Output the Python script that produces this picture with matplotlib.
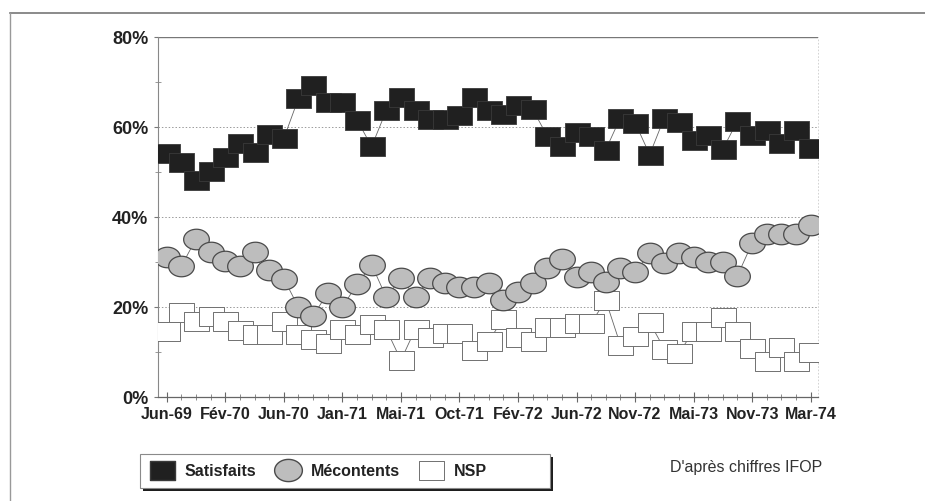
import numpy as np
import matplotlib.pyplot as plt
from matplotlib.path import Path
from matplotlib.lines import Line2D
from matplotlib.patches import Rectangle

plt.rcParams['font.family'] = ['Liberation Sans', 'DejaVu Sans']

# ----------------------------
# Sondages IFOP (en %)
# ----------------------------
satisfaits = [54.1, 52.2, 48.2, 50.2, 53.3, 56.3, 54.4, 58.4, 57.4, 66.3,
              69.2, 65.4, 65.4, 61.5, 55.6, 63.6, 66.5, 63.7, 61.7, 61.7,
              62.7, 66.7, 63.8, 62.8, 64.8, 63.9, 57.9, 55.8, 58.9, 58.0,
              54.9, 62.0, 60.9, 53.8, 62.0, 61.1, 57.0, 58.1, 55.0, 61.3,
              58.1, 59.3, 56.3, 59.3, 55.3]
mecontents = [31.1, 29.0, 35.1, 32.2, 30.2, 29.1, 32.2, 28.2, 26.2, 19.9,
              18.0, 23.0, 19.9, 25.0, 29.3, 22.1, 26.3, 22.2, 26.4, 25.3,
              24.3, 24.3, 25.3, 21.5, 23.3, 25.3, 28.5, 30.7, 26.5, 27.6,
              25.5, 28.7, 27.6, 31.9, 29.7, 31.9, 31.0, 30.0, 30.0, 26.9,
              34.1, 36.1, 36.1, 36.1, 38.2]
nsp = [14.7, 18.8, 16.8, 17.9, 16.8, 14.9, 13.9, 13.9, 16.9, 14.0,
       12.9, 12.0, 15.0, 14.0, 16.1, 15.0, 8.1, 15.1, 13.2, 14.2,
       14.2, 10.3, 12.4, 17.3, 13.3, 12.3, 15.4, 15.4, 16.4, 16.4,
       21.4, 11.5, 13.5, 16.5, 10.6, 9.7, 14.6, 14.6, 17.7, 14.7,
       10.8, 7.9, 11.0, 7.9, 10.0]

date_labels = ["Jun-69", "Fév-70", "Jun-70", "Jan-71", "Mai-71", "Oct-71",
               "Fév-72", "Jun-72", "Nov-72", "Mai-73", "Nov-73", "Mar-74"]
label_step = 4

x = np.arange(len(satisfaits))

# marqueurs : rectangle 25x19 et ellipse 25x20
rect = Path([(-25, -19), (25, -19), (25, 19), (-25, 19), (-25, -19)], closed=True)
t = np.linspace(0, 2 * np.pi, 60)
ellipse = Path(np.column_stack([25 * np.cos(t), 20 * np.sin(t)]), closed=True)

fig = plt.figure(figsize=(9.25, 5.02), dpi=100)
ax = fig.add_axes([0.1708, 0.2078, 0.7135, 0.7171])

line_kw = dict(color="#666666", lw=0.6)
ax.plot(x, nsp, marker=rect, ms=18, mfc="white", mec="#707070", mew=0.7,
        zorder=3, **line_kw)
ax.plot(x, mecontents, marker=ellipse, ms=18.5, mfc="#bdbdbd", mec="#4a4a4a",
        mew=0.9, zorder=4, **line_kw)
ax.plot(x, satisfaits, marker=rect, ms=18, mfc="#202020", mec="#3a3a3a",
        mew=0.6, zorder=5, **line_kw)

ax.set_xlim(-0.6, 44.5)
ax.set_ylim(0, 80)

ax.set_yticks([0, 20, 40, 60, 80])
ax.set_yticklabels(["0%", "20%", "40%", "60%", "80%"])
ax.set_yticks([10, 30, 50, 70], minor=True)
ax.set_xticks(x[::label_step])
ax.set_xticklabels(date_labels)
ax.set_xticks(x, minor=True)

ax.tick_params(axis="y", which="major", direction="out", length=3, width=0.8,
               color="#777777", labelsize=13, pad=4)
ax.tick_params(axis="y", which="minor", direction="inout", length=4, width=0.6,
               color="#888888")
ax.tick_params(axis="x", which="major", direction="inout", length=7, width=0.8,
               color="#666666", labelsize=11.5, pad=3)
ax.tick_params(axis="x", which="minor", direction="inout", length=4, width=0.6,
               color="#777777")
for lab in ax.get_xticklabels() + ax.get_yticklabels():
    lab.set_fontweight("bold")
    lab.set_color("#222222")

for yv in [20, 40, 60]:
    ax.axhline(yv, color="#9a9a9a", lw=0.7, ls=(0, (1.5, 2)), zorder=1)
ax.axhline(80, color="#777777", lw=1.0, zorder=1)

ax.spines["top"].set_visible(False)
ax.spines["right"].set_color("#cccccc")
ax.spines["right"].set_linestyle((0, (1, 3)))
ax.spines["right"].set_linewidth(0.6)
ax.spines["left"].set_color("#888888")
ax.spines["left"].set_linewidth(0.8)
ax.spines["bottom"].set_color("#666666")
ax.spines["bottom"].set_linewidth(0.9)

# cadre de légende avec ombre portée
W, H = 925, 502
fig.add_artist(Rectangle((143 / W, 1 - 492 / H), 410 / W, 34 / H,
                         transform=fig.transFigure, facecolor="#1e1e1e",
                         edgecolor="none", zorder=1))
fig.add_artist(Rectangle((140 / W, 1 - 489 / H), 410 / W, 34 / H,
                         transform=fig.transFigure, facecolor="white",
                         edgecolor="#8a8a8a", lw=0.8, zorder=2))

handles = [
    Line2D([], [], ls="none", marker=rect, ms=18, mfc="#202020", mec="#3a3a3a"),
    Line2D([], [], ls="none", marker=ellipse, ms=20, mfc="#bdbdbd", mec="#4a4a4a"),
    Line2D([], [], ls="none", marker=rect, ms=18, mfc="white", mec="#707070", mew=0.7),
]
leg = fig.legend(handles, ["Satisfaits", "Mécontents", "NSP"], ncol=3,
                 loc="center left", bbox_to_anchor=(149 / W, 1 - 472 / H),
                 frameon=False, prop={"weight": "bold", "size": 11.5},
                 handlelength=1.6, handletextpad=0.65, columnspacing=1.15,
                 borderpad=0, borderaxespad=0)
leg.set_zorder(3)
for txt in leg.get_texts():
    txt.set_color("#222222")

fig.text(0.8065, 0.0697, "D'après chiffres IFOP", ha="center", va="center",
         fontsize=11.5, color="#333333")

# cadre extérieur (haut et gauche)
fig.add_artist(Line2D([10 / W, 1.0], [1 - 14 / H, 1 - 14 / H],
                      color="#777777", lw=1.2))
fig.add_artist(Line2D([10 / W, 10 / W], [0.0, 1 - 14 / H],
                      color="#999999", lw=1.0))

fig.savefig("out.png", dpi=100)
